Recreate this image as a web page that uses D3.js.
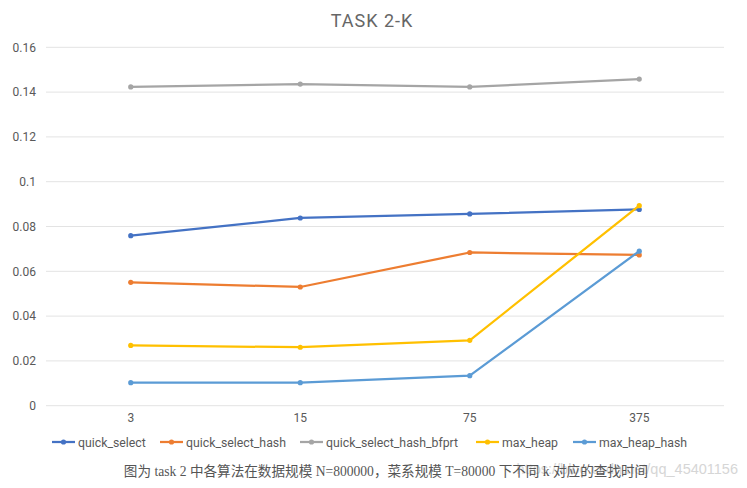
<!DOCTYPE html>
<html><head><meta charset="utf-8">
<script src="https://cdn.jsdelivr.net/npm/d3@7"></script>
<style>body{margin:0;background:#fff}svg{display:block}</style>
</head><body>
<script>
const categories = ["3", "15", "75", "375"];
const seriesNames = ["quick_select", "quick_select_hash", "quick_select_hash_bfprt", "max_heap", "max_heap_hash"];
const quickSelect = [0.0759, 0.0838, 0.0856, 0.0876];
const quickSelectHash = [0.0551, 0.0530, 0.0684, 0.0673];
const quickSelectHashBfprt = [0.1423, 0.1436, 0.1423, 0.1458];
const maxHeap = [0.0269, 0.0261, 0.0292, 0.0893];
const maxHeapHash = [0.0103, 0.0103, 0.0134, 0.0690];
const yTicks = [0, 0.02, 0.04, 0.06, 0.08, 0.1, 0.12, 0.14, 0.16];
const colors = ["#4472C4", "#ED7D31", "#A5A5A5", "#FFC000", "#5B9BD5"];
const title = "TASK 2-K";
const caption = "图为 task 2 中各算法在数据规模 N=800000，菜系规模 T=80000 下不同 k 对应的查找时间";
const watermark = "https://blog.csdn.net/qq_45401156";

const seriesValues = [quickSelect, quickSelectHash, quickSelectHashBfprt, maxHeap, maxHeapHash];
const W = 747, H = 488;
const svg = d3.select("body").append("svg").attr("width", W).attr("height", H);
const font = "Roboto, 'Liberation Sans', Arial, sans-serif";

const x = d3.scaleBand().domain(categories).range([46, 724]);
const y = d3.scaleLinear().domain([0, 0.16]).range([405.7, 47.3]);

// gridlines
svg.append("g").selectAll("line").data(yTicks).join("line")
  .attr("x1", 46).attr("x2", 724)
  .attr("y1", d => y(d)).attr("y2", d => y(d))
  .attr("stroke", "#e3e3e3").attr("stroke-width", 1);

// y axis
const yAxis = svg.append("g").attr("transform", "translate(46,0)")
  .call(d3.axisLeft(y).tickValues(yTicks).tickSize(0).tickPadding(10).tickFormat(d => d3.format("")(+d.toFixed(2))));
yAxis.select(".domain").remove();
yAxis.selectAll("text").attr("font-family", font).attr("font-size", 12).attr("fill", "#595959");

// x axis
const xAxis = svg.append("g").attr("transform", "translate(0,405.7)")
  .call(d3.axisBottom(x).tickSize(0).tickPadding(8));
xAxis.select(".domain").remove();
xAxis.selectAll("text").attr("font-family", font).attr("font-size", 12).attr("fill", "#595959");

// lines
const line = d3.line().x((d, i) => x(categories[i]) + x.bandwidth() / 2).y(d => y(d));
seriesValues.forEach((vals, si) => {
  svg.append("path").datum(vals).attr("d", line)
    .attr("fill", "none").attr("stroke", colors[si]).attr("stroke-width", 2.25)
    .attr("stroke-linejoin", "round").attr("stroke-linecap", "round");
  svg.append("g").selectAll("circle").data(vals).join("circle")
    .attr("cx", (d, i) => x(categories[i]) + x.bandwidth() / 2)
    .attr("cy", d => y(d)).attr("r", 2.6).attr("fill", colors[si]);
});

// title
svg.append("text").attr("x", 372).attr("y", 27).attr("text-anchor", "middle")
  .attr("font-family", font).attr("font-size", 18).attr("letter-spacing", 1)
  .attr("fill", "#666").text(title);

// legend
const legendX = [52, 160, 300, 476, 573];
const lg = svg.append("g");
seriesNames.forEach((name, i) => {
  const g = lg.append("g").attr("transform", `translate(${legendX[i]},442)`);
  g.append("line").attr("x1", 0).attr("x2", 23).attr("y1", 0).attr("y2", 0)
    .attr("stroke", colors[i]).attr("stroke-width", 2.25);
  g.append("circle").attr("cx", 11.5).attr("cy", 0).attr("r", 2.6).attr("fill", colors[i]);
  g.append("text").attr("x", 26).attr("y", 4.5).attr("font-family", font)
    .attr("font-size", 12.3).attr("fill", "#595959").text(name);
});

// watermark
svg.append("text").attr("x", 738).attr("y", 474).attr("text-anchor", "end")
  .attr("font-family", "'Liberation Sans', Arial, sans-serif").attr("font-size", 14.5)
  .attr("fill", "#d6d6d6").text(watermark);

// caption
svg.append("text").attr("x", 386).attr("y", 476).attr("text-anchor", "middle")
  .attr("font-family", "'Liberation Serif', 'Noto Sans CJK SC', serif").attr("font-size", 13.6)
  .attr("fill", "#555").text(caption);
</script>
</body></html>
